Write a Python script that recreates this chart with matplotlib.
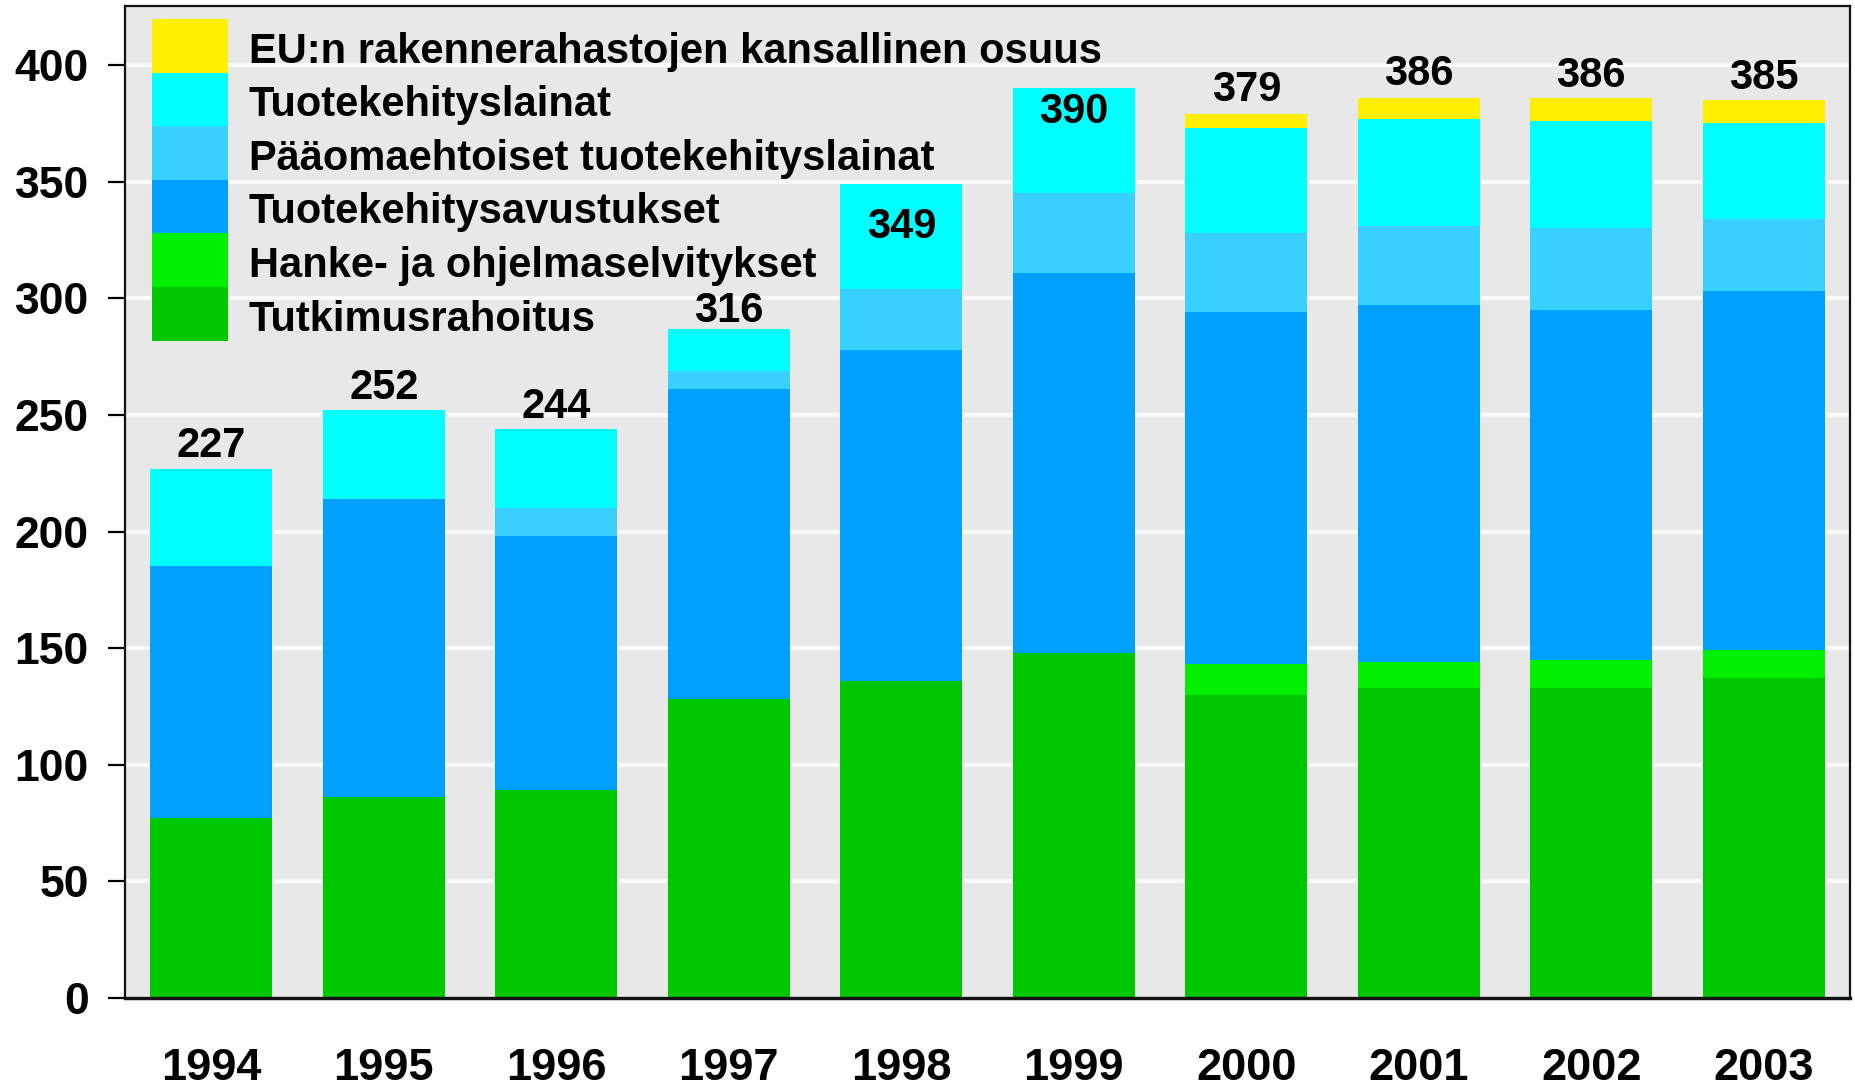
import matplotlib
matplotlib.use("Agg")
import matplotlib.pyplot as plt
from matplotlib.patches import Rectangle
import numpy as np

# ---- data ----
years = ["1994", "1995", "1996", "1997", "1998", "1999", "2000", "2001", "2002", "2003"]
tutkimusrahoitus = [77, 86, 89, 128, 136, 148, 130, 133, 133, 137]
hanke_ohjelmaselvitykset = [0, 0, 0, 0, 0, 0, 13, 11, 12, 12]
tuotekehitysavustukset = [108, 128, 109, 133, 142, 163, 151, 153, 150, 154]
paaomaehtoiset_lainat = [0, 0, 12, 8, 26, 34, 34, 34, 35, 31]
tuotekehityslainat = [42, 38, 34, 18, 45, 45, 45, 46, 46, 41]
eu_kansallinen_osuus = [0, 0, 0, 0, 0, 0, 6, 9, 10, 10]
total_labels = ["227", "252", "244", "316", "349", "390", "379", "386", "386", "385"]

series_names = [
    "Tutkimusrahoitus",
    "Hanke- ja ohjelmaselvitykset",
    "Tuotekehitysavustukset",
    "Pääomaehtoiset tuotekehityslainat",
    "Tuotekehityslainat",
    "EU:n rakennerahastojen kansallinen osuus",
]
series_values = [tutkimusrahoitus, hanke_ohjelmaselvitykset, tuotekehitysavustukset,
                 paaomaehtoiset_lainat, tuotekehityslainat, eu_kansallinen_osuus]
colors = ["#00C800", "#00F000", "#00A0FF", "#38D0FF", "#00FFFF", "#FFF000"]

# ---- figure ----
W, H = 1856, 1087
fig = plt.figure(figsize=(W / 100, H / 100), dpi=100)
FONT = "Liberation Sans"
plt.rcParams["font.family"] = [FONT, "DejaVu Sans"]
plt.rcParams["font.weight"] = "bold"

ax_left, ax_right, ax_top, ax_bottom = 125, 1850, 6, 998
ax = fig.add_axes([ax_left / W, 1 - ax_bottom / H, (ax_right - ax_left) / W, (ax_bottom - ax_top) / H])
ax.set_facecolor("#E8E8E8")

x = np.arange(len(years))
bottom = np.zeros(len(years))
for name, vals, c in zip(series_names, series_values, colors):
    v = np.array(vals, dtype=float)
    ax.bar(x, v, bottom=bottom, width=0.707, color=c, linewidth=0, zorder=3, label=name)
    bottom += v

# total labels
label_dy = [8, 8, 8, 5, -39, -25, 9, 9, 8, 8]
for xi, top, lab, dy in zip(x, bottom, total_labels, label_dy):
    ax.annotate(lab, xy=(xi, top), xytext=(0, dy), textcoords="offset points",
                ha="center", va="baseline", fontsize=30, fontweight="bold", zorder=5)

ax.set_xlim(-0.5, len(years) - 0.5)
ax.set_ylim(0, 425.3)
ax.set_yticks(np.arange(0, 401, 50))
ax.set_xticks(x)
ax.set_xticklabels(years)
ax.tick_params(axis="y", length=12, width=1.6, pad=14, labelsize=32, direction="out")
ax.tick_params(axis="x", length=0, pad=36, labelsize=32.5)
for lab in ax.get_xticklabels() + ax.get_yticklabels():
    lab.set_fontweight("bold")

ax.yaxis.grid(True, color="#FAFAFA", linewidth=3, zorder=1)
ax.set_axisbelow(True)
for s in ["left", "top", "right"]:
    ax.spines[s].set_linewidth(1.6)
    ax.spines[s].set_color("#111111")
ax.spines["bottom"].set_linewidth(2.5)
ax.spines["bottom"].set_color("#111111")
ax.spines["bottom"].set_zorder(6)

# ---- legend (manual, top-left, contiguous swatches) ----
def fx(px):
    return px / W

def fy(py):
    return 1 - py / H

sw_left, sw_right = 152, 228
sw_top, sw_h = 19, 53.6
text_x = 249
leg_order = list(range(len(series_names)))[::-1]  # EU on top
for i, si in enumerate(leg_order):
    t = sw_top + i * sw_h
    fig.patches.append(Rectangle((fx(sw_left), fy(t + sw_h)), fx(sw_right - sw_left), sw_h / H,
                                 transform=fig.transFigure, facecolor=colors[si], edgecolor="none",
                                 zorder=10))
    fig.text(fx(text_x), fy(t + sw_h - 10), series_names[si], fontsize=30, fontweight="bold",
             ha="left", va="baseline", zorder=11)

fig.savefig("out.png", dpi=100)
